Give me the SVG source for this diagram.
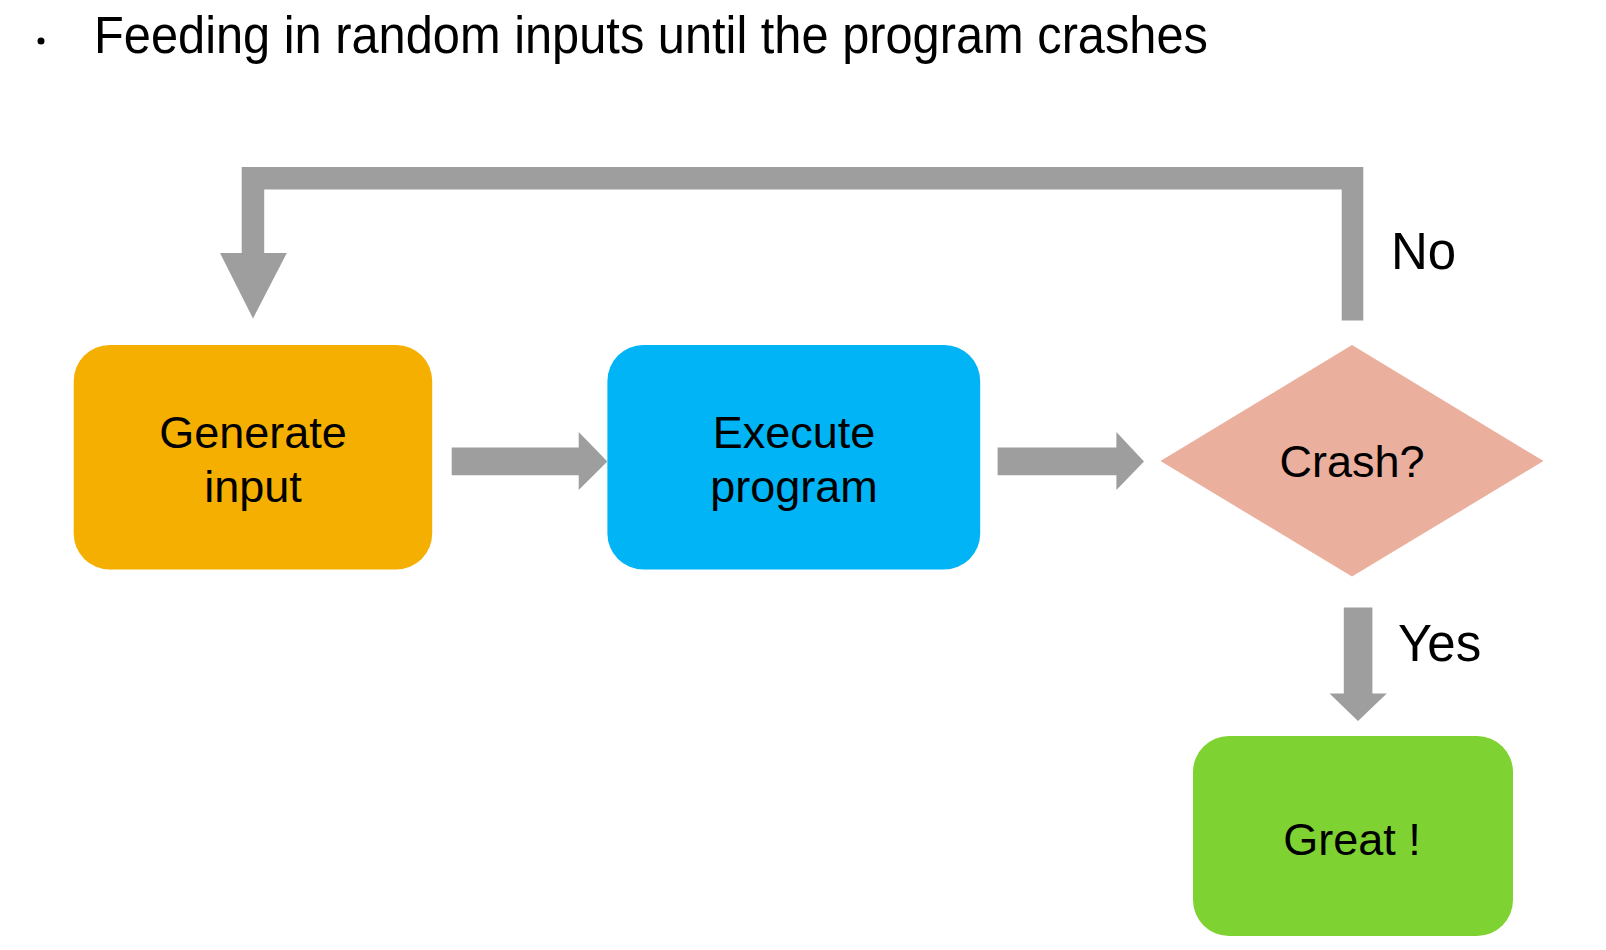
<svg xmlns="http://www.w3.org/2000/svg" width="1606" height="950" viewBox="0 0 1606 950">
<style>
.t{font-family:"Liberation Sans",Arial,sans-serif;fill:#000;}
.lbl{font-size:45px;text-anchor:middle;}
.conn{fill:#9e9e9e;}
</style>
<rect width="1606" height="950" fill="#fff"/>
<g id="title">
<circle cx="41" cy="41" r="3.5" fill="#000"/>
<text class="t" x="94" y="53" font-size="51" textLength="1114" lengthAdjust="spacingAndGlyphs">Feeding in random inputs until the program crashes</text>
</g>
<g id="connectors">
<polygon class="conn" points="1363.3,320.6 1363.3,167 241.7,167 241.7,253 220,253 253,318.5 286.8,253 264.2,253 264.2,189.5 1341.7,189.5 1341.7,320.6"/>
<polygon class="conn" points="451.7,447.6 578.7,447.6 578.7,432 607.4,461.4 578.7,490 578.7,475.2 451.7,475.2"/>
<polygon class="conn" points="997.6,447.6 1116.4,447.6 1116.4,432 1144,461.4 1116.4,490 1116.4,475.2 997.6,475.2"/>
<polygon class="conn" points="1343.8,607.4 1372.4,607.4 1372.4,693.4 1386.8,693.4 1358,721 1329.5,693.4 1343.8,693.4"/>
<text class="t" x="1391" y="269" font-size="51">No</text>
<text class="t" x="1398" y="661" font-size="51">Yes</text>
</g>
<g id="generate">
<rect x="73.7" y="345" width="358.5" height="224.5" rx="36" fill="#f5af00"/>
<text class="t lbl" x="253" y="447.6">Generate</text>
<text class="t lbl" x="253" y="502">input</text>
</g>
<g id="execute">
<rect x="607.4" y="345" width="372.8" height="224.5" rx="36" fill="#00b4f5"/>
<text class="t lbl" x="794" y="447.6">Execute</text>
<text class="t lbl" x="794" y="502">program</text>
</g>
<g id="crash">
<polygon points="1352,345 1543.5,461 1352,576.6 1160.5,461" fill="#ebaf9e"/>
<text class="t lbl" x="1352" y="477">Crash?</text>
</g>
<g id="great">
<rect x="1193" y="736" width="320" height="200" rx="36" fill="#7ed332"/>
<text class="t lbl" x="1352" y="855">Great !</text>
</g>
</svg>
